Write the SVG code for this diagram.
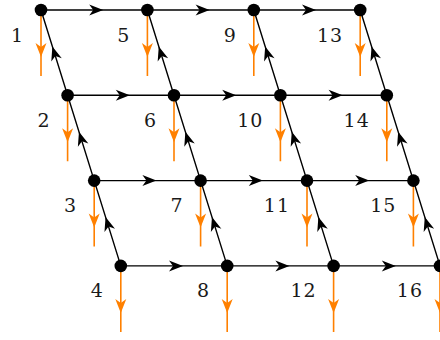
<svg xmlns="http://www.w3.org/2000/svg" xmlns:xlink="http://www.w3.org/1999/xlink" width="440" height="340" viewBox="0 0 440 340">
<style>
.e{stroke:#000;stroke-width:1.4;fill:none}
.o{stroke:#ff8000;stroke-width:1.6;fill:none}
.n{fill:#000}
.l{font-family:"DejaVu Serif","Liberation Serif",serif;font-size:19px;fill:#1a1a1a;text-anchor:end;letter-spacing:1px}
</style>
<defs>
<path id="ah" d="M0,0 L-14,-5.5 L-10,0 L-14,5.5 Z"/>
</defs>
<rect width="440" height="340" fill="#fff"/>
<g id="connectors">
<path class="e" d="M41,10H360.2 M67.6,95.3H386.8 M94.2,180.6H413.4 M120.8,265.9H440"/>
<path class="e" d="M41,10L120.8,265.9 M147.4,10L227.2,265.9 M253.8,10L333.6,265.9 M360.2,10L440,265.9"/>
<g fill="#000">
<use xlink:href="#ah" transform="translate(103.2,10)"/>
<use xlink:href="#ah" transform="translate(209.6,10)"/>
<use xlink:href="#ah" transform="translate(316,10)"/>
<use xlink:href="#ah" transform="translate(129.8,95.3)"/>
<use xlink:href="#ah" transform="translate(236.2,95.3)"/>
<use xlink:href="#ah" transform="translate(342.6,95.3)"/>
<use xlink:href="#ah" transform="translate(156.4,180.6)"/>
<use xlink:href="#ah" transform="translate(262.8,180.6)"/>
<use xlink:href="#ah" transform="translate(369.2,180.6)"/>
<use xlink:href="#ah" transform="translate(183,265.9)"/>
<use xlink:href="#ah" transform="translate(289.4,265.9)"/>
<use xlink:href="#ah" transform="translate(395.8,265.9)"/>
<use xlink:href="#ah" transform="translate(52.37,46.45) rotate(-107.32)"/>
<use xlink:href="#ah" transform="translate(158.77,46.45) rotate(-107.32)"/>
<use xlink:href="#ah" transform="translate(265.17,46.45) rotate(-107.32)"/>
<use xlink:href="#ah" transform="translate(371.57,46.45) rotate(-107.32)"/>
<use xlink:href="#ah" transform="translate(78.97,131.75) rotate(-107.32)"/>
<use xlink:href="#ah" transform="translate(185.37,131.75) rotate(-107.32)"/>
<use xlink:href="#ah" transform="translate(291.77,131.75) rotate(-107.32)"/>
<use xlink:href="#ah" transform="translate(398.17,131.75) rotate(-107.32)"/>
<use xlink:href="#ah" transform="translate(105.57,217.05) rotate(-107.32)"/>
<use xlink:href="#ah" transform="translate(211.97,217.05) rotate(-107.32)"/>
<use xlink:href="#ah" transform="translate(318.37,217.05) rotate(-107.32)"/>
<use xlink:href="#ah" transform="translate(424.77,217.05) rotate(-107.32)"/>
</g>
</g>
<g id="outflows">
<path class="o" d="M41,10v66 M147.4,10v66 M253.8,10v66 M360.2,10v66 M67.6,95.3v66 M174,95.3v66 M280.4,95.3v66 M386.8,95.3v66 M94.2,180.6v66 M200.6,180.6v66 M307,180.6v66 M413.4,180.6v66 M120.8,265.9v66 M227.2,265.9v66 M333.6,265.9v66 M440,265.9v66"/>
<g fill="#ff8000">
<use xlink:href="#ah" transform="translate(41,57) rotate(90)"/>
<use xlink:href="#ah" transform="translate(147.4,57) rotate(90)"/>
<use xlink:href="#ah" transform="translate(253.8,57) rotate(90)"/>
<use xlink:href="#ah" transform="translate(360.2,57) rotate(90)"/>
<use xlink:href="#ah" transform="translate(67.6,142.3) rotate(90)"/>
<use xlink:href="#ah" transform="translate(174,142.3) rotate(90)"/>
<use xlink:href="#ah" transform="translate(280.4,142.3) rotate(90)"/>
<use xlink:href="#ah" transform="translate(386.8,142.3) rotate(90)"/>
<use xlink:href="#ah" transform="translate(94.2,227.6) rotate(90)"/>
<use xlink:href="#ah" transform="translate(200.6,227.6) rotate(90)"/>
<use xlink:href="#ah" transform="translate(307,227.6) rotate(90)"/>
<use xlink:href="#ah" transform="translate(413.4,227.6) rotate(90)"/>
<use xlink:href="#ah" transform="translate(120.8,312.9) rotate(90)"/>
<use xlink:href="#ah" transform="translate(227.2,312.9) rotate(90)"/>
<use xlink:href="#ah" transform="translate(333.6,312.9) rotate(90)"/>
<use xlink:href="#ah" transform="translate(440,312.9) rotate(90)"/>
</g>
</g>
<g id="node1"><circle class="n" cx="41" cy="10" r="6.3"/><text class="l" x="24" y="41.5">1</text></g>
<g id="node2"><circle class="n" cx="67.6" cy="95.3" r="6.3"/><text class="l" x="50.6" y="126.8">2</text></g>
<g id="node3"><circle class="n" cx="94.2" cy="180.6" r="6.3"/><text class="l" x="77.2" y="212.1">3</text></g>
<g id="node4"><circle class="n" cx="120.8" cy="265.9" r="6.3"/><text class="l" x="103.8" y="297.4">4</text></g>
<g id="node5"><circle class="n" cx="147.4" cy="10" r="6.3"/><text class="l" x="130.4" y="41.5">5</text></g>
<g id="node6"><circle class="n" cx="174" cy="95.3" r="6.3"/><text class="l" x="157" y="126.8">6</text></g>
<g id="node7"><circle class="n" cx="200.6" cy="180.6" r="6.3"/><text class="l" x="183.6" y="212.1">7</text></g>
<g id="node8"><circle class="n" cx="227.2" cy="265.9" r="6.3"/><text class="l" x="210.2" y="297.4">8</text></g>
<g id="node9"><circle class="n" cx="253.8" cy="10" r="6.3"/><text class="l" x="236.8" y="41.5">9</text></g>
<g id="node10"><circle class="n" cx="280.4" cy="95.3" r="6.3"/><text class="l" x="263.4" y="126.8">10</text></g>
<g id="node11"><circle class="n" cx="307" cy="180.6" r="6.3"/><text class="l" x="290" y="212.1">11</text></g>
<g id="node12"><circle class="n" cx="333.6" cy="265.9" r="6.3"/><text class="l" x="316.6" y="297.4">12</text></g>
<g id="node13"><circle class="n" cx="360.2" cy="10" r="6.3"/><text class="l" x="343.2" y="41.5">13</text></g>
<g id="node14"><circle class="n" cx="386.8" cy="95.3" r="6.3"/><text class="l" x="369.8" y="126.8">14</text></g>
<g id="node15"><circle class="n" cx="413.4" cy="180.6" r="6.3"/><text class="l" x="396.4" y="212.1">15</text></g>
<g id="node16"><circle class="n" cx="440" cy="265.9" r="6.3"/><text class="l" x="423" y="297.4">16</text></g>
</svg>
